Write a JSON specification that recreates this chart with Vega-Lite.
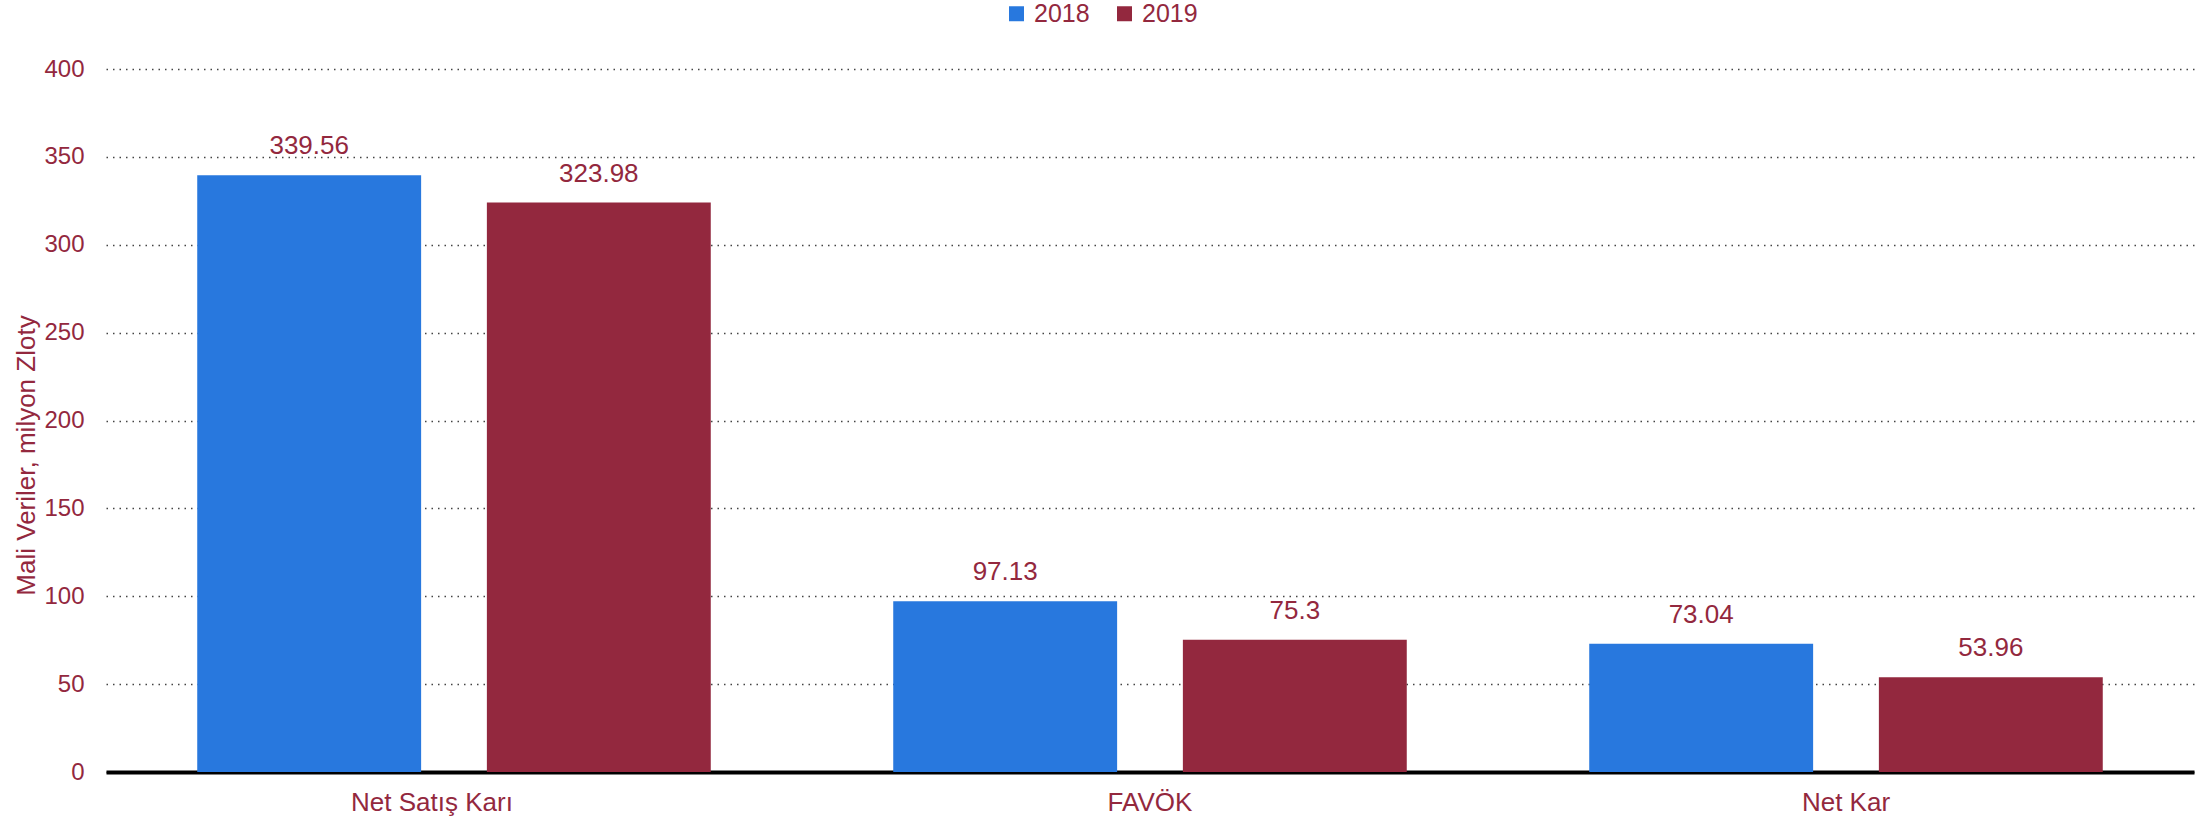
{
  "$schema": "https://vega.github.io/schema/vega-lite/v6.json",
  "autosize": "none",
  "width": 2088,
  "height": 703,
  "padding": {"left": 106, "top": 69, "right": 18, "bottom": 50},
  "background": "white",
  "config": {"font": "Liberation Sans", "view": {"stroke": null}},
  "data": {"values": [
    {"metric": "Net Satış Karı", "year": "2018", "value": 339.56},
    {"metric": "Net Satış Karı", "year": "2019", "value": 323.98},
    {"metric": "FAVÖK", "year": "2018", "value": 97.13},
    {"metric": "FAVÖK", "year": "2019", "value": 75.3},
    {"metric": "Net Kar", "year": "2018", "value": 73.04},
    {"metric": "Net Kar", "year": "2019", "value": 53.96}
  ]},
  "encoding": {
    "x": {"field": "metric", "type": "nominal", "sort": ["Net Satış Karı", "FAVÖK", "Net Kar"],
      "scale": {"paddingInner": 0, "paddingOuter": 0},
      "axis": {"title": null, "labelAngle": 0, "labelFontSize": 26, "labelColor": "#93283E", "labelPadding": 17,
        "labelOffset": {"expr": "datum.value === 'Net Satış Karı' ? -22 : 0"},
        "ticks": false, "domainColor": "#000000", "domainWidth": 4, "grid": false}},
    "xOffset": {"field": "year", "type": "nominal", "scale": {"paddingInner": 0.227, "paddingOuter": 0.315}},
    "y": {"field": "value", "type": "quantitative",
      "scale": {"domain": [0, 400], "nice": false},
      "axis": {"values": [0, 50, 100, 150, 200, 250, 300, 350, 400], "title": "Mali Veriler, milyon Zloty",
        "titleFontSize": 26, "titleFontWeight": "normal", "titleColor": "#93283E",
        "titleAngle": -90, "titleX": -80, "titleY": 386, "titleAlign": "center", "titleBaseline": "middle",
        "labelFontSize": 24, "labelColor": "#93283E", "labelPadding": 22, "ticks": false, "domain": false,
        "gridColor": "#444444", "gridWidth": 1.5, "gridDash": [1.5, 5]}}
  },
  "layer": [
    {"mark": {"type": "bar"},
      "encoding": {"color": {"field": "year", "type": "nominal",
        "scale": {"domain": ["2018", "2019"], "range": ["#2878DE", "#93283E"]},
        "legend": {"title": null, "orient": "none", "direction": "horizontal", "legendX": 898, "legendY": -68,
          "symbolType": "square", "symbolSize": 225, "symbolStrokeWidth": 0, "labelFontSize": 25, "labelColor": "#93283E",
          "labelOffset": 5, "columnPadding": 22}}}},
    {"mark": {"type": "text", "baseline": "alphabetic", "dy": -21, "fontSize": 26, "color": "#93283E"},
      "encoding": {"text": {"field": "value", "type": "quantitative"}}}
  ]
}
